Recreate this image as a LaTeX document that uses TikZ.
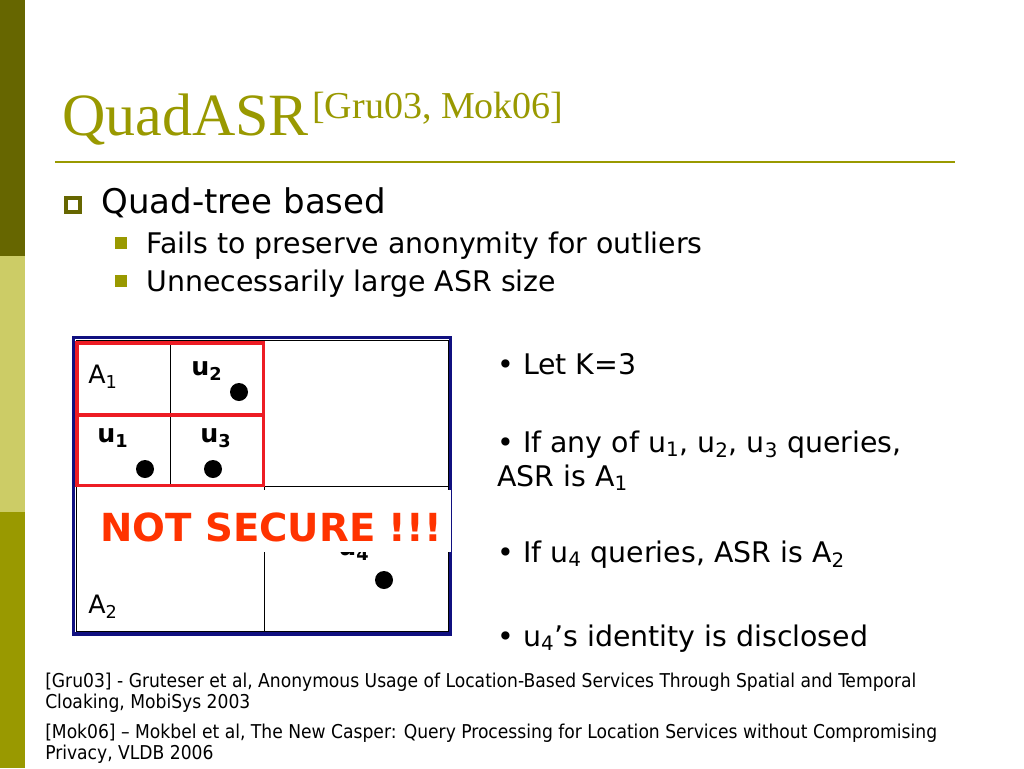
\documentclass[tikz,border=0pt]{standalone}
\usepackage{fontspec}
\newfontfamily\vfont{DejaVu Sans}
\newfontfamily\cfont{DejaVu Sans Condensed}
\newfontfamily\sfont{Liberation Serif}
\definecolor{darkolive}{RGB}{102,102,0}
\definecolor{paleolive}{RGB}{204,204,102}
\definecolor{titleolive}{RGB}{153,153,0}
\definecolor{framenavy}{RGB}{16,16,128}
\definecolor{cellred}{RGB}{237,28,36}
\definecolor{alertred}{RGB}{255,51,0}

\begin{document}
\begin{tikzpicture}[x=0.75pt,y=-0.75pt,
  big/.style={anchor=base west,inner sep=0pt,font=\vfont\fontsize{25.5pt}{30pt}\selectfont},
  txt/.style={anchor=base west,inner sep=0pt,font=\vfont\fontsize{21.3pt}{25pt}\selectfont},
  note/.style={anchor=base west,inner sep=0pt,font=\cfont\fontsize{14.3pt}{17pt}\selectfont},
  cell/.style={anchor=base west,inner sep=0pt,font=\vfont\fontsize{19pt}{22pt}\selectfont},
  user/.style={cell,font=\vfont\bfseries\fontsize{19pt}{22pt}\selectfont},
  dot/.style={circle,fill=black,inner sep=0pt,minimum size=13.5pt},
  sqbox/.style={draw=darkolive,line width=2.4pt,inner sep=0pt,minimum size=10.5pt},
  sqfill/.style={fill=titleolive,inner sep=0pt,minimum size=8.5pt}]
  \useasboundingbox (0,0) rectangle (1024,768);
  \fill[white] (0,0) rectangle (1024,768);
  \fill[darkolive] (0,0) rectangle (25,256);
  \fill[paleolive] (0,256) rectangle (25,512);
  \fill[titleolive] (0,512) rectangle (25,768);

  \node (title) [anchor=base west,inner sep=0pt,text=titleolive,font=\sfont\fontsize{45pt}{52pt}\selectfont] at (62,135) {QuadASR};
  \node (cite) [anchor=base west,inner sep=0pt,text=titleolive,font=\sfont\fontsize{28.5pt}{33pt}\selectfont] at (312,118) {[Gru03, Mok06]};
  \draw[titleolive,line width=1.5pt] (55,162) -- (955,162);

  \node (b0) [sqbox] at (73,205) {};
  \node (l0) [big] at (101,213) {Quad-tree based};
  \node (b1) [sqfill] at (121,243) {};
  \node (l1) [txt] at (146,253) {Fails to preserve anonymity for outliers};
  \node (b2) [sqfill] at (121,281) {};
  \node (l2) [txt] at (146,291) {Unnecessarily large ASR size};

  \draw[black,line width=0.75pt] (170,343) -- (170,485);
  \draw[black,line width=0.75pt] (264,343) -- (264,631);
  \draw[black,line width=0.75pt] (264,486) -- (449,486);
  \draw[black,line width=0.75pt] (76.5,340.5) rectangle (448.5,631);
  \draw[framenavy,line width=2.6pt] (73.5,337.5) rectangle (450.5,634);
  \draw[cellred,line width=2.4pt] (77,343) rectangle (263.5,485.5);
  \draw[cellred,line width=2.4pt] (77,415) -- (263.5,415);

  \node (a1) [cell] at (88,383) {A\textsubscript{1}};
  \node (u2) [user] at (191,375) {u\textsubscript{2}};
  \node (u1) [user] at (97,442) {u\textsubscript{1}};
  \node (u3) [user] at (200,442) {u\textsubscript{3}};
  \node (u4) [user] at (338,555) {u\textsubscript{4}};
  \node (a2) [cell] at (88,613) {A\textsubscript{2}};
  \node (p2) [dot] at (239,392) {};
  \node (p1) [dot] at (145,469) {};
  \node (p3) [dot] at (213,469) {};
  \node (p4) [dot] at (384,580) {};

  \fill[white] (77.5,490) rectangle (451,552);
  \node (warn) [anchor=base west,inner sep=0pt,text=alertred,font=\vfont\bfseries\fontsize{29pt}{34pt}\selectfont] at (100,541) {NOT SECURE !!!};

  \node (r1) [txt] at (497,374) {• Let K=3};
  \node (r2) [txt] at (497,452) {• If any of u\textsubscript{1}, u\textsubscript{2}, u\textsubscript{3} queries,};
  \node (r3) [txt] at (497,486) {ASR is A\textsubscript{1}};
  \node (r4) [txt] at (497,562) {• If u\textsubscript{4} queries, ASR is A\textsubscript{2}};
  \node (r5) [txt] at (497,646) {• u\textsubscript{4}’s identity is disclosed};

  \node (n1) [note] at (45,687) {[Gru03] - Gruteser et al, Anonymous Usage of Location-Based Services Through Spatial and Temporal};
  \node (n2) [note] at (45,708) {Cloaking, MobiSys 2003};
  \node (n3) [note] at (45,738) {[Mok06] – Mokbel et al, The New Casper: Query Processing for Location Services without Compromising};
  \node (n4) [note] at (45,759) {Privacy, VLDB 2006};
\end{tikzpicture}
\end{document}
